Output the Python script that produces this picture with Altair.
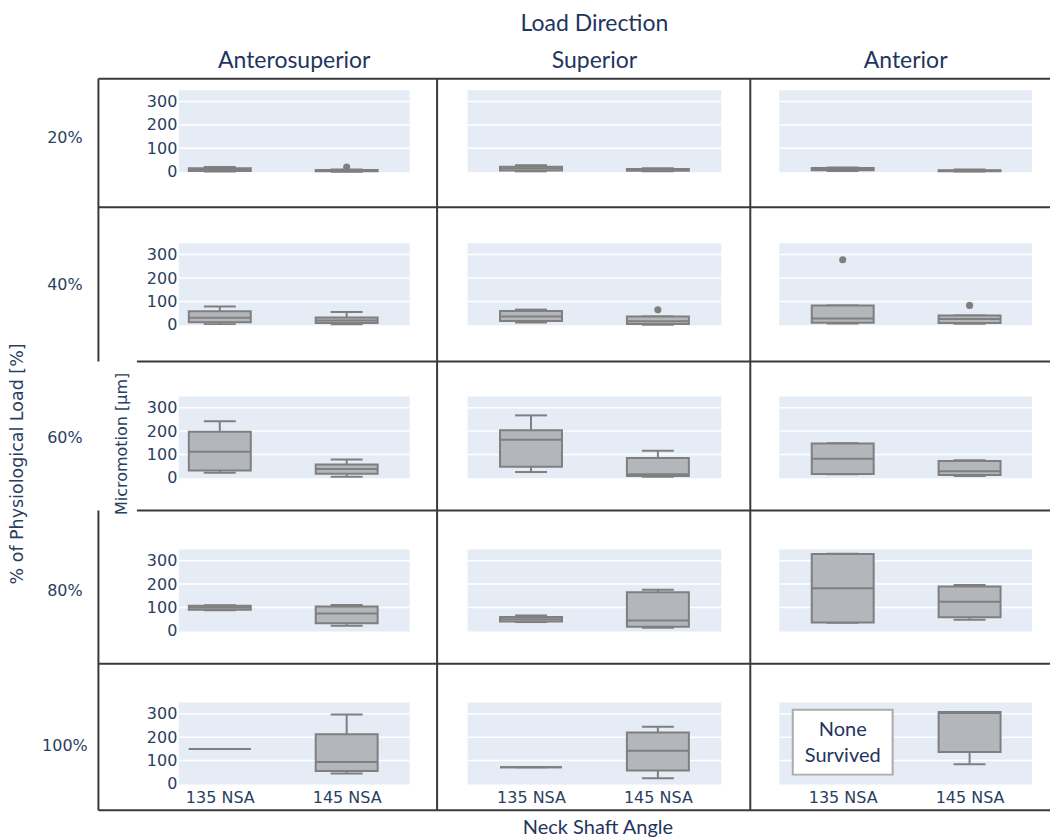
import altair as alt
import pandas as pd

# ---------------- data ----------------
directions = ["Anterosuperior", "Superior", "Anterior"]
loads = ["20%", "40%", "60%", "80%", "100%"]
angles = ["135 NSA", "145 NSA"]

# one row per load level; order inside a row:
# Anterosuperior 135, Anterosuperior 145, Superior 135, Superior 145, Anterior 135, Anterior 145
whisker_low = [
    [1, 0, 2, 2, 3, 1],
    [3, 2, 10, 0, 6, 5],
    [22, 5, 25, 5, 16, 8],
    [88, 22, 38, 14, 35, 48],
    [150, 45, 72, 25, None, 84],
]
quartile_1 = [
    [3, 2, 5, 4, 6, 2],
    [11, 8, 16, 4, 9, 8],
    [32, 18, 48, 8, 17, 12],
    [90, 33, 40, 18, 36, 58],
    [150, 55, 72, 58, None, 137],
]
median = [
    [8, 4, 15, 8, 10, 4],
    [30, 18, 36, 15, 27, 25],
    [112, 38, 163, 15, 82, 28],
    [100, 75, 50, 45, 182, 125],
    [150, 94, 72, 142, None, 303],
]
quartile_3 = [
    [15, 8, 22, 12, 16, 7],
    [58, 31, 59, 36, 83, 40],
    [197, 57, 204, 85, 147, 72],
    [108, 104, 60, 165, 329, 190],
    [150, 212, 72, 220, None, 308],
]
whisker_high = [
    [20, 10, 28, 15, 18, 10],
    [78, 55, 65, 36, 83, 40],
    [242, 78, 267, 116, 148, 75],
    [110, 111, 66, 176, 330, 196],
    [150, 297, 72, 245, None, 308],
]

outlier_load = ["20%", "40%", "40%", "40%"]
outlier_direction = ["Anterosuperior", "Superior", "Anterior", "Anterior"]
outlier_angle = ["145 NSA", "145 NSA", "135 NSA", "145 NSA"]
outlier_value = [20, 64, 278, 83]

note_text = "None\nSurvived"
note_load, note_direction, note_angle = "100%", "Anterior", "135 NSA"

y_ticks = [0, 100, 200, 300]

# ---------------- tables ----------------
rows = []
for r, L in enumerate(loads):
    for c, D in enumerate(directions):
        for a, A in enumerate(angles):
            k = 2 * c + a
            if whisker_low[r][k] is None:
                continue
            rows.append(dict(load=L, direction=D, angle=A,
                             lo=whisker_low[r][k], q1=quartile_1[r][k],
                             med=median[r][k], q3=quartile_3[r][k],
                             hi=whisker_high[r][k]))
box_df = pd.DataFrame(rows)
out_df = pd.DataFrame(dict(load=outlier_load, direction=outlier_direction,
                           angle=outlier_angle, value=outlier_value))
grid_df = pd.DataFrame(dict(tick=[t for t in y_ticks if t > 0]))

# ---------------- style / layout ----------------
BLUE = "#e5ecf6"
LINE = "#7f7f7f"
FILL = "#b3b6bb"
NAVY = "#2a3f5f"
TITLE_NAVY = "#1f3560"
TICK_FONT = "DejaVu Sans"
TITLE_FONT = "Lato"

PANEL_W = [231, 254, 253]
LABEL_W = 112
PANEL_H = 82
X_RANGE = [[41, 168], [63.5, 190.5], [63.5, 190.5]]
Y_DOMAIN = [-2, 348]
ORIGIN = (9, 90)  # page position of the first label panel
ROW_LABEL_Y = [48, 41.8, 41.6, 41.4, 43.2]

# frame lines of the table (page pixels)
RIGHT = 1051
frame_segments = [
    (98.5, 78.5, 98.5, 361.5), (98.5, 510.5, 98.5, 810.5),
    (437.5, 78.5, 437.5, 810.5), (751, 78.5, 751, 810.5),
    (98.5, 78.5, RIGHT, 78.5), (98.5, 207, RIGHT, 207),
    (137, 361.5, RIGHT, 361.5), (137, 510.5, RIGHT, 510.5),
    (98.5, 664, RIGHT, 664), (98.5, 810.5, RIGHT, 810.5),
]
page_box = (8, 8, RIGHT, 842)

note_pos = dict(bottom=40, top=317, first_line=232)


def x_enc(r, c):
    if r == len(loads) - 1:
        kw = dict(labels=True, labelFont=TICK_FONT, labelFontSize=16,
                  labelColor=NAVY, labelPadding=5, labelAngle=0,
                  ticks=False, domain=False, grid=False)
        if c == 1:
            ax = alt.Axis(title="Neck Shaft Angle", titleFont=TITLE_FONT,
                          titleFontSize=20, titleFontWeight="normal",
                          titleColor=TITLE_NAVY, titleBaseline="alphabetic",
                          titleX=130, titleY=49, **kw)
        else:
            ax = alt.Axis(title=None, **kw)
    else:
        ax = None
    return alt.X("angle:N", title=None,
                 scale=alt.Scale(type="point", domain=angles,
                                 range=X_RANGE[c], padding=0),
                 axis=ax)


def y_enc(field, r, c):
    common = dict(values=y_ticks, grid=False, domain=False, ticks=False)
    if c == 0:
        if r == 2:
            ax = alt.Axis(labels=True, labelFont=TICK_FONT, labelFontSize=16,
                          labelColor=NAVY, labelPadding=2,
                          title="Micromotion [µm]", titleFont=TICK_FONT,
                          titleFontSize=16, titleFontWeight="normal",
                          titleColor=NAVY, titleAngle=270, titleAlign="center",
                          titleBaseline="middle", titleX=-57.5, titleY=47,
                          **common)
        else:
            ax = alt.Axis(labels=True, labelFont=TICK_FONT, labelFontSize=16,
                          labelColor=NAVY, labelPadding=2, title=None, **common)
    else:
        ax = alt.Axis(labels=False, title=None, **common)
    return alt.Y(field, title=None,
                 scale=alt.Scale(domain=Y_DOMAIN, nice=False, zero=False),
                 axis=ax)


def data_panel(r, c):
    L, D = loads[r], directions[c]
    d = box_df[(box_df.load == L) & (box_df.direction == D)]
    o = out_df[(out_df.load == L) & (out_df.direction == D)]
    X = x_enc(r, c)
    base = alt.Chart(d)
    layers = [
        alt.Chart(grid_df).mark_rule(color="white", strokeWidth=1.5).encode(
            y=y_enc("tick:Q", r, c), x=alt.value(0), x2=alt.value(PANEL_W[c])),
        base.mark_rule(color=LINE, strokeWidth=2).encode(
            x=X, y=y_enc("lo:Q", r, c), y2="hi:Q"),
        base.mark_tick(color=LINE, size=32, thickness=2, opacity=1).encode(
            x=X, y=y_enc("lo:Q", r, c)),
        base.mark_tick(color=LINE, size=32, thickness=2, opacity=1).encode(
            x=X, y=y_enc("hi:Q", r, c)),
        base.mark_bar(size=62, fill=FILL, stroke=LINE, strokeWidth=2,
                      opacity=1).encode(
            x=X, y=y_enc("q1:Q", r, c), y2="q3:Q"),
        base.mark_tick(color=LINE, size=62, thickness=2, opacity=1).encode(
            x=X, y=y_enc("med:Q", r, c)),
    ]
    if len(o):
        layers.append(alt.Chart(o).mark_circle(size=50, color=LINE, opacity=1)
                      .encode(x=X, y=y_enc("value:Q", r, c)))
    if L == note_load and D == note_direction:
        nd = pd.DataFrame(dict(angle=[note_angle], note=[note_text],
                               bottom=[note_pos["bottom"]], top=[note_pos["top"]],
                               first=[note_pos["first_line"]]))
        nb = alt.Chart(nd)
        layers.append(nb.mark_bar(size=100, fill="white", stroke="#ababab",
                                  strokeWidth=2, opacity=1).encode(
            x=X, y=y_enc("bottom:Q", r, c), y2="top:Q"))
        layers.append(nb.mark_text(lineBreak="\n", lineHeight=26, font=TITLE_FONT,
                                   fontSize=20, color=TITLE_NAVY, align="center",
                                   baseline="middle").encode(
            x=X, y=y_enc("first:Q", r, c), text="note:N"))
    props = dict(width=PANEL_W[c], height=PANEL_H,
                 view=alt.ViewBackground(fill=BLUE, stroke=None))
    if r == 0:
        tkw = dict(font=TITLE_FONT, fontSize=23, fontWeight="normal",
                   color=TITLE_NAVY, anchor="middle", frame="group",
                   baseline="bottom", offset=-6)
        if c == 1:
            props["title"] = alt.TitleParams(
                text="Load Direction", subtitle=D, subtitleFont=TITLE_FONT,
                subtitleFontSize=23, subtitleColor=TITLE_NAVY,
                subtitleFontWeight="normal", subtitlePadding=14, **tkw)
        else:
            props["title"] = alt.TitleParams(text=D, **tkw)
    return alt.layer(*layers).properties(**props)


def label_panel(r):
    lab = alt.Chart(pd.DataFrame(dict(load=[loads[r]]))).mark_text(
        font=TICK_FONT, fontSize=16, color=NAVY, align="center",
        baseline="middle").encode(
        text="load:N", x=alt.value(LABEL_W / 2), y=alt.value(ROW_LABEL_Y[r]))
    layers = [lab]
    if r == 2:
        layers.append(alt.Chart(pd.DataFrame(dict(t=["% of Physiological Load [%]"])))
                      .mark_text(font=TICK_FONT, fontSize=17.5, color=NAVY,
                                 align="center", baseline="middle", angle=270)
                      .encode(text="t:N", x=alt.value(18 - ORIGIN[0]),
                              y=alt.value(464 - 396.4)))
    if r == 0:
        ox, oy = ORIGIN
        seg = pd.DataFrame([dict(x=a - ox, y=b - oy, x2=cc - ox, y2=dd - oy)
                            for a, b, cc, dd in frame_segments])
        layers.append(alt.Chart(seg).mark_rule(color="#3a3a3a", strokeWidth=2)
                      .encode(x=alt.X("x:Q", scale=None, axis=None),
                              y=alt.Y("y:Q", scale=None, axis=None),
                              x2="x2:Q", y2="y2:Q"))
        pb = pd.DataFrame([dict(x=page_box[0] - ox, y=page_box[1] - oy,
                                x2=page_box[2] - ox, y2=page_box[3] - oy)])
        layers.append(alt.Chart(pb).mark_rect(opacity=0)
                      .encode(x=alt.X("x:Q", scale=None, axis=None),
                              y=alt.Y("y:Q", scale=None, axis=None),
                              x2="x2:Q", y2="y2:Q"))
    return alt.layer(*layers).properties(
        width=LABEL_W, height=PANEL_H, view=alt.ViewBackground(stroke=None))


cells = []
for r in range(len(loads)):
    cells.append(label_panel(r))
    for c in range(len(directions)):
        cells.append(data_panel(r, c))

chart = alt.concat(
    *cells, columns=4, spacing={"row": 71.2, "column": 58}, bounds="flush"
).properties(padding=0).configure_view(stroke=None)

chart.save("out.html", embed_options={"renderer": "svg", "actions": False})
